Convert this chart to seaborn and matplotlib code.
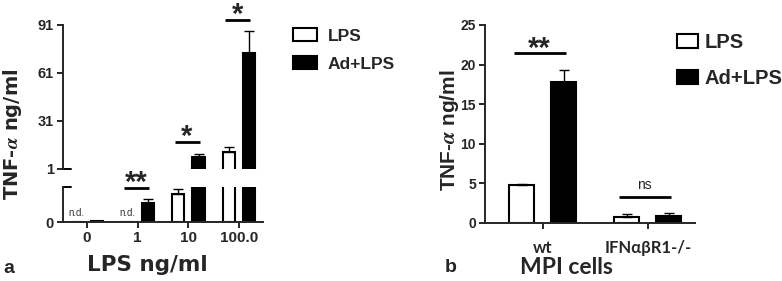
import numpy as np
import pandas as pd
import seaborn as sns
import matplotlib
matplotlib.use("Agg")
import matplotlib.pyplot as plt
from matplotlib.patches import Patch

DOSES = ["0", "1", "10", "100.0"]
LPS_A = [0.0, 0.0, 0.80, 11.6]
LPS_A_ERR = [np.nan, np.nan, 0.14, 3.2]
AD_A = [0.03, 0.53, 8.5, 73.5]
AD_A_ERR = [0.0, 0.14, 1.9, 13.5]
ND_A = ["n.d.", "n.d.", "", ""]
SIG_A = ["", "**", "*", "*"]
SIG_A_Y = [np.nan, 0.97, 17.9, 94.0]  # dose 1 sits on the lower (0-1) segment

CELLS = ["wt", "IFNαβR1-/-"]
LPS_B = [4.75, 0.8]
LPS_B_ERR = [0.2, 0.3]
AD_B = [17.8, 0.88]
AD_B_ERR = [1.5, 0.42]
SIG_B = ["**", "ns"]
SIG_B_Y = [21.5, 3.3]

GROUPS = ["LPS", "Ad+LPS"]
COLORS = {"LPS": "white", "Ad+LPS": "black"}
W, H = 782, 281


def to_frame(cats, lps, ad, key):
    return pd.DataFrame({key: list(cats) * 2,
                         "group": ["LPS"] * len(cats) + ["Ad+LPS"] * len(cats),
                         "value": list(lps) + list(ad)})


def draw_bars(ax, df, key, order, errs, lo, hi):
    sns.barplot(ax=ax, data=df, x=key, y="value", hue="group", order=order,
                hue_order=GROUPS, palette=COLORS, edgecolor="black", linewidth=1.5,
                width=0.8, gap=0.4, errorbar=None, legend=False)
    for cont, err in zip(ax.containers, errs):
        for bar, e in zip(cont, err):
            # bars that end below this segment would leave an edge stroke on its floor
            if bar.get_height() < lo:
                bar.set_visible(False)
            if np.isnan(e) or e <= 0:
                continue
            top = bar.get_height() + e
            # only draw the error bar on the segment that holds its cap
            if not (lo < top <= hi):
                continue
            ax.errorbar(bar.get_x() + bar.get_width() / 2, bar.get_height(),
                        yerr=[[0], [e]], fmt="none", ecolor="black",
                        elinewidth=1, capsize=3.5, capthick=1)
    ax.set_xlabel("")
    ax.set_ylabel("")


def sig_mark(ax, i, y, text, size, weight, off):
    ax.plot([i - 0.27, i + 0.22], [y, y], color="black", lw=2, clip_on=False,
            solid_capstyle="butt")
    ax.annotate(text, xy=(i - 0.03, y), xytext=(0, off), textcoords="offset points",
                ha="center", va="baseline", fontsize=size, fontweight=weight,
                annotation_clip=False)


sns.set_style("ticks")
plt.rcParams["font.family"] = ["Liberation Sans", "DejaVu Sans"]
plt.rcParams["mathtext.fontset"] = "stix"
plt.rcParams["font.weight"] = "bold"
plt.rcParams["axes.linewidth"] = 1.4
plt.rcParams["xtick.major.width"] = 1.4
plt.rcParams["ytick.major.width"] = 1.4
plt.rcParams["xtick.major.size"] = 4.5
plt.rcParams["ytick.major.size"] = 4.5

fig = plt.figure(figsize=(W / 100, H / 100), dpi=100)

# panel a: broken y axis, two stacked axes
ax_lo = fig.add_axes([63 / W, 59 / H, 200 / W, 35 / H])
ax_hi = fig.add_axes([63 / W, 112 / H, 200 / W, 144 / H])
df_a = to_frame(DOSES, LPS_A, AD_A, "dose")
draw_bars(ax_lo, df_a, "dose", DOSES, [LPS_A_ERR, AD_A_ERR], 0, 1)
draw_bars(ax_hi, df_a, "dose", DOSES, [LPS_A_ERR, AD_A_ERR], 1, 200)
for ax in (ax_lo, ax_hi):
    ax.set_xlim(-0.47, 3.47)
    ax.spines[["top", "right"]].set_visible(False)

ax_lo.set_ylim(0, 1)
ax_lo.set_yticks([0])
ax_lo.tick_params(axis="x", labelsize=11, pad=2)
ax_lo.tick_params(axis="y", labelsize=10.5, pad=2)
ax_lo.plot([0, 0.04], [1, 1], transform=ax_lo.transAxes, color="black", lw=1.4, clip_on=False)

ax_hi.set_ylim(1, 91)
ax_hi.set_yticks([1, 31, 61, 91])
ax_hi.spines["bottom"].set_visible(False)
ax_hi.tick_params(axis="x", bottom=False, labelbottom=False)
ax_hi.tick_params(axis="y", labelsize=10.5, pad=2)
ax_hi.plot([0, 0.04], [0, 0], transform=ax_hi.transAxes, color="black", lw=1.4, clip_on=False)

for i, t in enumerate(ND_A):
    if t:
        ax_lo.text(i - 0.2, 0.12, t, ha="center", va="bottom", fontsize=7,
                   fontweight="normal", color="#333333")

for i, (t, y) in enumerate(zip(SIG_A, SIG_A_Y)):
    if not t:
        continue
    ax = ax_lo if y <= 1 else ax_hi
    sig_mark(ax, i, y, t, 21, "bold", -2)

wide = ["DejaVu Sans"]
fig.text(13 / W, 1 - 134 / H, "TNF-$\\alpha$ ng/ml", rotation=90, ha="center",
         va="center", fontsize=14, family=wide)
fig.text(147 / W, 1 - 265 / H, "LPS ng/ml", ha="center", va="center", fontsize=15.5,
         family=wide)
fig.text(3 / W, 1 - 273 / H, "a", ha="left", va="baseline", fontsize=14)

# panel b
ax_b = fig.add_axes([485 / W, 58 / H, 210 / W, 198 / H])
df_b = to_frame(CELLS, LPS_B, AD_B, "cells")
draw_bars(ax_b, df_b, "cells", CELLS, [LPS_B_ERR, AD_B_ERR], 0, 25)
ax_b.set_xlim(-0.55, 1.45)
ax_b.set_ylim(0, 25)
ax_b.set_yticks(np.arange(0, 26, 5))
ax_b.spines[["top", "right"]].set_visible(False)
ax_b.tick_params(axis="y", labelsize=10, pad=2)
ax_b.tick_params(axis="x", labelsize=12, pad=8)
for lbl in ax_b.get_xticklabels():
    lbl.set_fontfamily(["Lato", "Open Sans", "DejaVu Sans"])

sig_mark(ax_b, 0, SIG_B_Y[0], SIG_B[0], 21, "bold", -3)
sig_mark(ax_b, 1, SIG_B_Y[1], SIG_B[1], 10, "normal", 6)

fig.text(449 / W, 1 - 130 / H, "TNF-$\\alpha$ ng/ml", rotation=90, ha="center",
         va="center", fontsize=15)
fig.text(566 / W, 1 - 268 / H, "MPI cells", ha="center", va="center", fontsize=16.5,
         family=["Lato", "Open Sans", "DejaVu Sans"])
fig.text(445 / W, 1 - 272 / H, "b", ha="left", va="baseline", fontsize=14)


# legends
def legend_handles():
    return [Patch(facecolor=COLORS[g], edgecolor="black", linewidth=1.5, label=g)
            for g in GROUPS]


fig.legend(handles=legend_handles(), loc="upper left", bbox_to_anchor=(293 / W, 1 - 28 / H),
           frameon=False, fontsize=12.5, handlelength=1.38, handleheight=0.8,
           handletextpad=0.63, labelspacing=0.72, borderpad=0, borderaxespad=0)
fig.legend(handles=legend_handles(), loc="upper left", bbox_to_anchor=(677 / W, 1 - 33 / H),
           frameon=False, fontsize=14.5, handlelength=1.05, handleheight=0.65,
           handletextpad=0.3, labelspacing=0.85, borderpad=0, borderaxespad=0)

fig.savefig("out.png", dpi=100)
